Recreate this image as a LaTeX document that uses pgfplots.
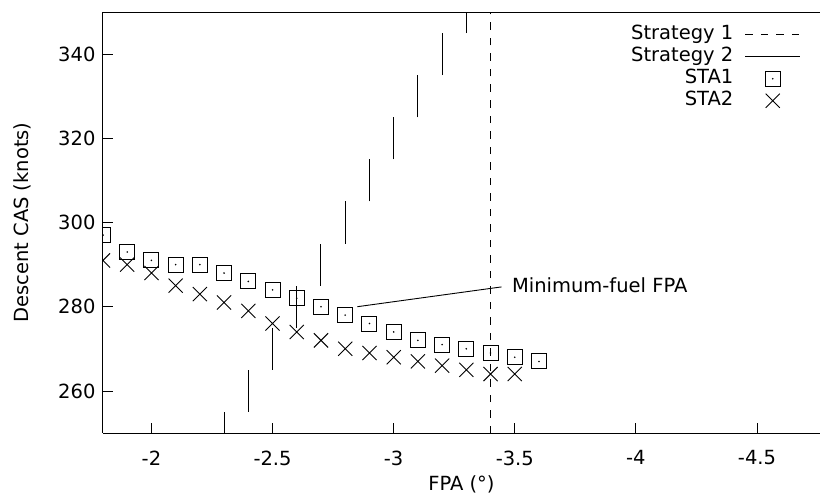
\documentclass[border=0pt]{standalone}
\usepackage{fontspec}
\setmainfont{DejaVu Sans}
\usepackage{pgfplots}
\pgfplotsset{compat=1.18}

\pgfdeclareplotmark{sqdot}{%
  \pgfpathrectangle{\pgfqpoint{-\pgfplotmarksize}{-\pgfplotmarksize}}{\pgfqpoint{2\pgfplotmarksize}{2\pgfplotmarksize}}%
  \pgfusepathqstroke
  \pgfpathcircle{\pgfpointorigin}{0.9pt}%
  \pgfusepathqfill}

\pgfplotsset{
  lineleg/.style={legend image code/.code={\draw[##1] (0pt,0pt) -- (55pt,0pt);}},
  markleg/.style={legend image code/.code={\draw[##1] plot coordinates {(27.5pt,0pt)};}},
}

\newcommand{\fs}{\fontsize{19.5}{23}\selectfont}

\begin{document}
\begin{tikzpicture}
\begin{axis}[
    scale only axis,
    width=717pt,
    height=421pt,
    x dir=reverse,
    xmin=-4.76, xmax=-1.8,
    ymin=250, ymax=350,
    xtick={-2,-2.5,-3,-3.5,-4,-4.5},
    ytick={260,280,300,320,340},
    axis x line*=box,
    axis y line*=left,
    tick pos=left,
    tick align=inside,
    major tick length=10pt,
    axis line style={line width=1pt},
    tick style={line width=0.8pt, black},
    /pgf/number format/assume math mode=true,
    tick label style={font=\fs},
    xticklabel style={yshift=-14pt},
    yticklabel style={xshift=-4pt},
    every axis x label/.style={at={(axis description cs:0.5,0)}, anchor=center, yshift=-51pt, font=\fs},
    every axis y label/.style={at={(axis description cs:0,0.5)}, xshift=-81pt, rotate=90, anchor=center, font=\fs},
    xlabel={FPA (°)},
    ylabel={Descent CAS (knots)},
    clip marker paths=true,
    unbounded coords=jump,
    legend plot pos=right,
    legend cell align=right,
    legend style={draw=none, fill=none, at={(1,1)}, anchor=north east,
        xshift=-16pt, yshift=-9.5pt, font=\fs, row sep=0pt,
        nodes={inner sep=1.5pt, text height=14.5pt, text depth=4.5pt},
        /tikz/every odd column/.append style={column sep=10pt}},
]
% Strategy 1
\addplot[lineleg, black, line width=1pt, dash pattern=on 7.5pt off 8pt] coordinates {
(-3.4,250) (-3.4,350)
};
\addlegendentry{Strategy 1}
% Strategy 2
\addplot[lineleg, black, line width=1pt] coordinates {
(-2.3,250) (-2.3,255) (-2.3,nan)
(-2.4,255) (-2.4,265) (-2.4,nan)
(-2.5,265) (-2.5,275) (-2.5,nan)
(-2.6,275) (-2.6,285) (-2.6,nan)
(-2.7,285) (-2.7,295) (-2.7,nan)
(-2.8,295) (-2.8,305) (-2.8,nan)
(-2.9,305) (-2.9,315) (-2.9,nan)
(-3.0,315) (-3.0,325) (-3.0,nan)
(-3.1,325) (-3.1,335) (-3.1,nan)
(-3.2,335) (-3.2,345) (-3.2,nan)
(-3.3,345) (-3.3,355)
};
\addlegendentry{Strategy 2}
% STA1
\addplot[markleg, only marks, mark=sqdot, mark size=7.5pt, black, line width=0.9pt] coordinates {
(-1.8,297) (-1.9,293) (-2.0,291) (-2.1,290) (-2.2,290) (-2.3,288) (-2.4,286)
(-2.5,284) (-2.6,282) (-2.7,280) (-2.8,278) (-2.9,276) (-3.0,274) (-3.1,272)
(-3.2,271) (-3.3,270) (-3.4,269) (-3.5,268) (-3.6,267)
};
\addlegendentry{STA1}
% STA2
\addplot[markleg, only marks, mark=x, mark size=10pt, black, line width=0.9pt] coordinates {
(-1.8,291) (-1.9,290) (-2.0,288) (-2.1,285) (-2.2,283) (-2.3,281) (-2.4,279)
(-2.5,276) (-2.6,274) (-2.7,272) (-2.8,270) (-2.9,269) (-3.0,268) (-3.1,267)
(-3.2,266) (-3.3,265) (-3.4,264) (-3.5,264)
};
\addlegendentry{STA2}
% annotation
\draw[black, line width=0.9pt] (axis cs:-2.85,280) -- (axis cs:-3.445,284.7);
\node[anchor=west, font=\fs, inner sep=0pt] at (axis cs:-3.488,285) {Minimum-fuel FPA};
\coordinate (sw) at (rel axis cs:0,0);
\end{axis}
\pgfresetboundingbox
\useasboundingbox (sw) ++(-103pt,-66pt) rectangle ++(820pt,499pt);
\end{tikzpicture}
\end{document}
